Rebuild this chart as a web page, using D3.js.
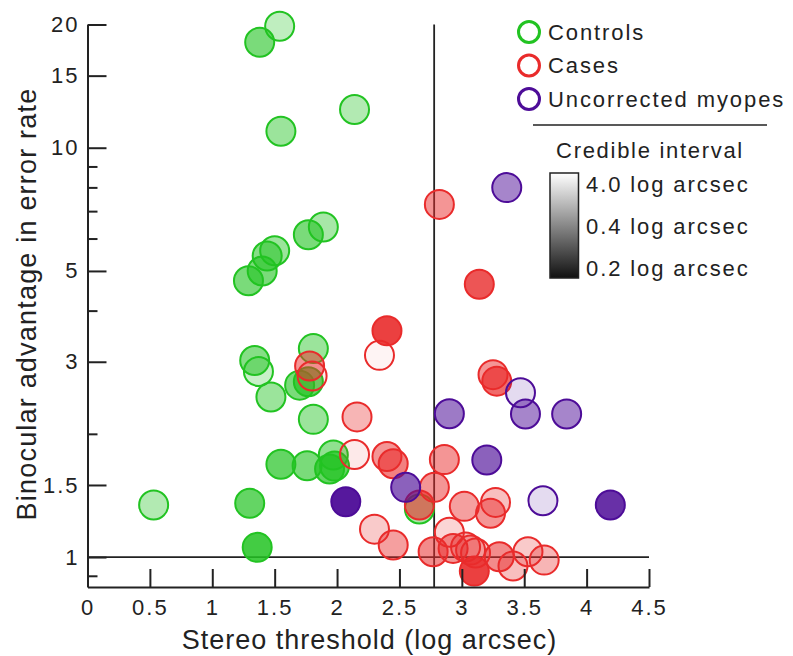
<!DOCTYPE html>
<html>
<head>
<meta charset="utf-8">
<script src="https://cdn.jsdelivr.net/npm/d3@7"></script>
<style>
  body { margin: 0; background: #fff; }
  text { font-family: "Liberation Sans", Arial, sans-serif; fill: #222; }
</style>
</head>
<body>
<div id="chart-container"></div>
<script>
// stereo threshold (log arcsec), binocular advantage, credible interval width (log arcsec)
const ctrlThreshold = [1.54, 1.38, 1.55, 2.14, 1.89, 1.77, 1.50, 1.44, 1.40, 1.29, 1.34, 1.37, 1.47,
                       1.81, 1.70, 1.77, 1.81, 1.55, 1.76, 1.97, 1.94, 1.98, 0.53, 1.30, 1.36, 2.66];
const ctrlAdvantage = [19.8, 18.1, 10.97, 12.4, 6.40, 6.13, 5.60, 5.44, 5.00, 4.73, 3.02, 2.84, 2.46,
                       3.23, 2.63, 2.68, 2.17, 1.685, 1.671, 1.775, 1.641, 1.668, 1.34, 1.353, 1.056, 1.31];
const ctrlCI = [1.9, 0.36, 0.76, 1.48, 1.12, 0.36, 0.76, 0.38, 0.36, 0.36, 0.38, 2.2, 0.76,
                0.76, 0.36, 0.32, 0.76, 0.32, 0.36, 0.4, 0.32, 0.32, 1.48, 0.32, 0.26, 1.12];

const caseThreshold = [1.78, 1.80, 2.40, 2.34, 2.16, 2.14, 2.40, 2.45, 2.86, 2.78, 2.30, 2.45, 2.77,
                       2.90, 3.02, 3.27, 3.23, 2.93, 3.03, 3.07, 3.11, 3.10, 3.30, 3.41, 3.53, 3.66,
                       2.82, 3.14, 3.25, 3.28, 2.66];
const caseAdvantage = [2.93, 2.77, 3.57, 3.11, 2.20, 1.78, 1.76, 1.69, 1.73, 1.48, 1.17, 1.07, 1.03,
                       1.15, 1.33, 1.36, 1.28, 1.05, 1.058, 1.04, 1.023, 0.924, 1.002, 0.951, 1.03, 0.983,
                       7.27, 4.64, 2.79, 2.69, 1.34];
const caseCI = [0.4, 3.42, 0.24, 3.64, 1.48, 3.28, 0.4, 0.36, 0.4, 0.4, 2.2, 0.76, 0.38,
                2.56, 0.76, 1.84, 0.4, 0.4, 1.84, 1.84, 2.2, 0.24, 0.38, 1.84, 2.2, 1.48,
                0.4, 0.28, 0.4, 0.32, 0.36];

const myopeThreshold = [3.36, 3.47, 2.90, 3.51, 3.84, 2.07, 2.55, 3.20, 3.65, 4.19];
const myopeAdvantage = [7.99, 2.52, 2.24, 2.236, 2.236, 1.365, 1.48, 1.726, 1.373, 1.34];
const myopeCI = [0.4, 2.92, 0.38, 0.4, 0.4, 0.22, 0.34, 0.34, 2.92, 0.26];

const groupNames = ["Controls", "Cases", "Uncorrected myopes"];
const groupColors = ["#22c322", "#e92b2b", "#4d0c98"];

const xTicks = [0, 0.5, 1, 1.5, 2, 2.5, 3, 3.5, 4, 4.5];
const yTicks = [1, 1.5, 3, 5, 10, 15, 20];
const yMinorTicks = [0.9, 2, 4, 6, 7, 8, 9];
const ciLabels = ["4.0 log arcsec", "0.4 log arcsec", "0.2 log arcsec"];
const stereoCutoff = Math.log10(600); // 600 arcsec

const svgWidth = 793;
const svgHeight = 656;
const margin = { top: 24.5, right: 144, bottom: 69, left: 87.5 };
const width = svgWidth - margin.left - margin.right;
const height = svgHeight - margin.top - margin.bottom;

const svg = d3.select("#chart-container")
    .append("svg")
    .attr("width", svgWidth)
    .attr("height", svgHeight)
    .append("g")
    .attr("transform", `translate(${margin.left},${margin.top})`);

const x = d3.scaleLinear().domain([0, 4.5]).range([0, width]);
const y = d3.scaleLog().domain([0.845, 20]).range([height, 0]);
// narrow interval -> opaque fill, wide interval -> white
const alpha = d3.scaleLinear().domain([0.2, 0.4, 4.0]).range([1, 0.5, 0]).clamp(true);

// reference lines
svg.append("line")
    .attr("x1", 0).attr("x2", x(4.5))
    .attr("y1", y(1)).attr("y2", y(1))
    .attr("stroke", "#222").attr("stroke-width", 1.8);
svg.append("line")
    .attr("x1", x(stereoCutoff)).attr("x2", x(stereoCutoff))
    .attr("y1", y(20)).attr("y2", height)
    .attr("stroke", "#222").attr("stroke-width", 1.8);

// points, one group after the other
const groups = [
    { th: ctrlThreshold, adv: ctrlAdvantage, ci: ctrlCI },
    { th: caseThreshold, adv: caseAdvantage, ci: caseCI },
    { th: myopeThreshold, adv: myopeAdvantage, ci: myopeCI }
];
groups.forEach(function(g, gi) {
    const pts = g.th.map((t, i) => ({ t: t, a: g.adv[i], ci: g.ci[i] }));
    svg.append("g")
        .selectAll("circle")
        .data(pts)
        .join("circle")
        .attr("cx", d => x(d.t))
        .attr("cy", d => y(d.a))
        .attr("r", 14.5)
        .attr("fill", groupColors[gi])
        .attr("fill-opacity", d => alpha(d.ci))
        .attr("stroke", groupColors[gi])
        .attr("stroke-width", 2);
});

// axes, ticks point inwards
const xAxis = svg.append("g")
    .attr("transform", `translate(0,${height})`)
    .call(d3.axisBottom(x).tickValues(xTicks).tickFormat(d3.format("")).tickSizeInner(-18).tickSizeOuter(0).tickPadding(12));
const yAxis = svg.append("g")
    .call(d3.axisLeft(y).tickValues(yTicks).tickFormat(d3.format("")).tickSizeInner(-19).tickSizeOuter(0).tickPadding(8));
svg.append("g")
    .call(d3.axisLeft(y).tickValues(yMinorTicks).tickFormat("").tickSizeInner(-10).tickSizeOuter(0))
    .select(".domain").remove();

svg.selectAll(".domain, .tick line").attr("stroke", "#222").attr("stroke-width", 2);
xAxis.select(".tick line").remove(); // the 0 tick sits on the y axis
xAxis.selectAll("text").attr("dy", "0.71em");
svg.selectAll(".tick text")
    .style("font-family", "'Liberation Sans', Arial, sans-serif")
    .style("font-size", "22px")
    .style("letter-spacing", "2px")
    .attr("fill", "#222");

// axis titles
svg.append("text")
    .attr("x", x(2.26))
    .attr("y", height + 62)
    .attr("text-anchor", "middle")
    .style("font-size", "27px")
    .style("letter-spacing", "1px")
    .text("Stereo threshold (log arcsec)");
svg.append("text")
    .attr("transform", `translate(${36 - margin.left},${304 - margin.top}) rotate(-90)`)
    .attr("text-anchor", "middle")
    .style("font-size", "27px")
    .style("letter-spacing", "1.2px")
    .text("Binocular advantage in error rate");

// legend
const legend = svg.append("g")
    .attr("transform", `translate(${529 - margin.left},${32 - margin.top})`);
groupNames.forEach(function(name, i) {
    legend.append("circle")
        .attr("cx", 0).attr("cy", i * 33.5)
        .attr("r", 10.5)
        .attr("fill", "#fff")
        .attr("stroke", groupColors[i])
        .attr("stroke-width", 3);
    legend.append("text")
        .attr("x", 19).attr("y", i * 33.5)
        .attr("dy", "0.35em")
        .style("font-size", "22px")
        .style("letter-spacing", "1.9px")
        .text(name);
});
legend.append("line")
    .attr("x1", 4).attr("x2", 238)
    .attr("y1", 93).attr("y2", 93)
    .attr("stroke", "#222").attr("stroke-width", 1.5);
legend.append("text")
    .attr("x", 121).attr("y", 126)
    .attr("text-anchor", "middle")
    .style("font-size", "22px")
    .style("letter-spacing", "1.7px")
    .text("Credible interval");

// grey bar for the interval width
const defs = d3.select("svg").append("defs");
const grad = defs.append("linearGradient")
    .attr("id", "ciGrad")
    .attr("x1", 0).attr("x2", 0).attr("y1", 0).attr("y2", 1);
grad.append("stop").attr("offset", "0%").attr("stop-color", "#ffffff");
grad.append("stop").attr("offset", "100%").attr("stop-color", "#111111");

legend.append("rect")
    .attr("x", 21).attr("y", 141)
    .attr("width", 28.5).attr("height", 105)
    .attr("fill", "url(#ciGrad)")
    .attr("stroke", "#222").attr("stroke-width", 1.5);
ciLabels.forEach(function(lab, i) {
    legend.append("text")
        .attr("x", 57).attr("y", 160 + i * 42.2)
        .style("font-size", "22px")
        .style("letter-spacing", "1.9px")
        .text(lab);
});
</script>
</body>
</html>
